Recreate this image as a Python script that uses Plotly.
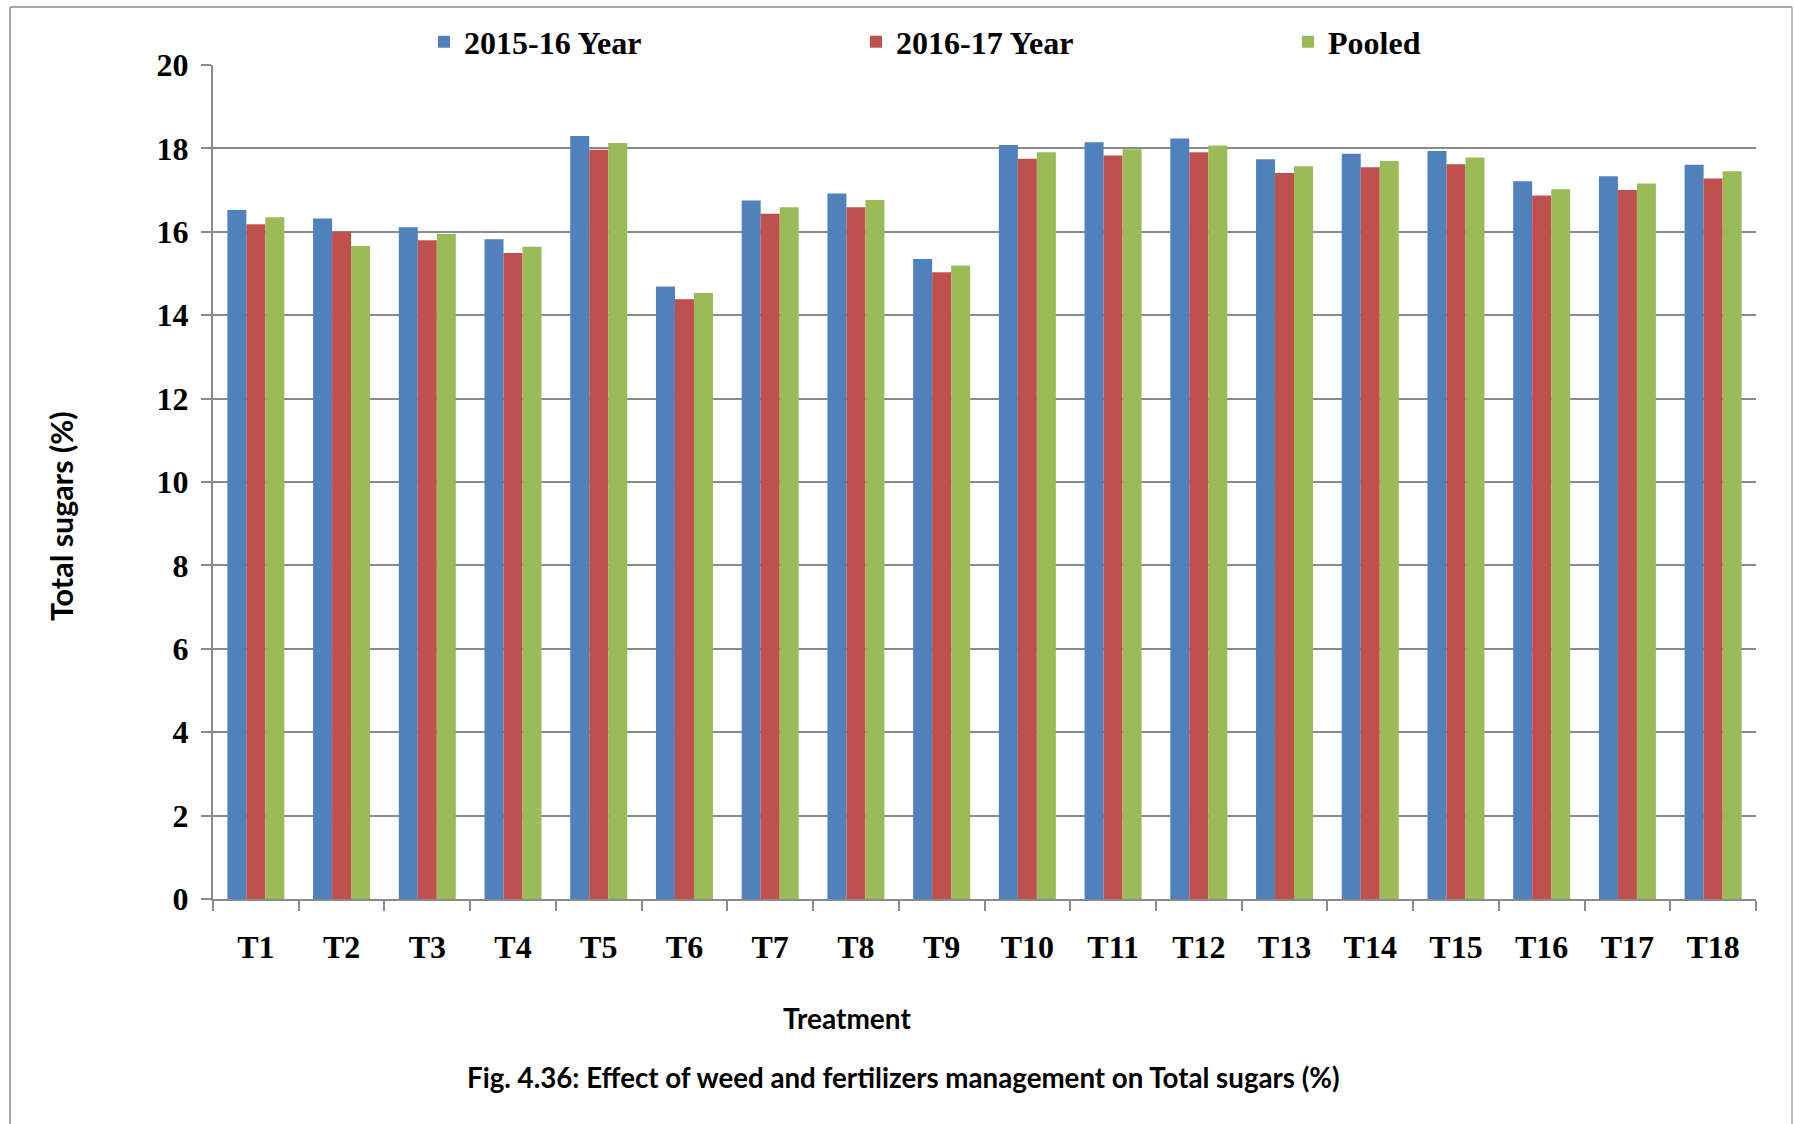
import plotly.graph_objects as go

# Total sugars (%) by treatment
treatments = ["T1", "T2", "T3", "T4", "T5", "T6", "T7", "T8", "T9",
              "T10", "T11", "T12", "T13", "T14", "T15", "T16", "T17", "T18"]
year_2015_16 = [16.52, 16.32, 16.11, 15.82, 18.30, 14.69, 16.75, 16.92, 15.35,
                18.08, 18.15, 18.24, 17.74, 17.87, 17.94, 17.21, 17.33, 17.61]
year_2016_17 = [16.18, 16.00, 15.80, 15.49, 17.97, 14.38, 16.43, 16.59, 15.03,
                17.75, 17.83, 17.91, 17.41, 17.55, 17.62, 16.87, 17.00, 17.28]
pooled = [16.35, 15.66, 15.95, 15.64, 18.13, 14.53, 16.59, 16.76, 15.19,
          17.91, 17.98, 18.07, 17.57, 17.70, 17.78, 17.02, 17.16, 17.45]
y_ticks = [0, 2, 4, 6, 8, 10, 12, 14, 16, 18, 20]

W, H = 1794, 1124
L, R, T, B = 213, 1756, 65, 899  # plot area in pixels


def px(x):
    return (x - L) / (R - L)


def py(y):
    return (B - y) / (B - T)


serif = dict(family="Liberation Serif", size=32, color="black", weight="bold")
sans = dict(family="Lato", color="black", weight="bold")
grid_col = "#8a8a8a"
border_col = "#a6a6a6"

fig = go.Figure()
for name, vals, col in [("2015-16 Year", year_2015_16, "#4F81BD"),
                        ("2016-17 Year", year_2016_17, "#C0504D"),
                        ("Pooled", pooled, "#9BBB59")]:
    fig.add_trace(go.Bar(x=treatments, y=vals, name=name,
                         marker=dict(color=col, line=dict(width=0))))


def note(text, x, y, size, angle=0):
    return dict(text=text, textangle=angle, x=px(x), y=py(y),
                xref="paper", yref="paper", xanchor="center", yanchor="middle",
                showarrow=False, font=dict(sans, size=size))


fig.update_layout(
    width=W, height=H,
    margin=dict(l=L, r=W - R, t=T, b=H - B),
    paper_bgcolor="white", plot_bgcolor="white",
    barmode="group", bargap=0.335, bargroupgap=0,
    showlegend=True,
    legend=dict(orientation="h", x=px(424), xanchor="left",
                y=py(42), yanchor="middle",
                font=serif, entrywidth=387, entrywidthmode="pixels",
                traceorder="normal", bgcolor="rgba(0,0,0,0)"),
    xaxis=dict(type="category", showgrid=False, showline=True,
               linecolor=grid_col, linewidth=2,
               ticks="outside", tickson="boundaries", ticklen=10,
               tickcolor=grid_col, tickwidth=1.5,
               tickfont=serif, ticklabelstandoff=19),
    yaxis=dict(range=[0, 20], tickvals=y_ticks, showgrid=True,
               gridcolor=grid_col, gridwidth=2,
               showline=True, linecolor=grid_col, linewidth=2,
               ticks="outside", ticklen=10, tickcolor=grid_col, tickwidth=1.5,
               tickfont=serif, zeroline=False, ticklabelstandoff=6),
    annotations=[
        note("Total sugars (%)", 61, 516, 30.5, angle=-90),
        note("Treatment", 847, 1018, 28),
        note("Fig. 4.36: Effect of weed and fertilizers management on Total sugars (%)",
             903, 1077, 27.7),
    ],
    shapes=[
        dict(type="line", xref="paper", yref="paper", x0=px(10), x1=px(10),
             y0=py(7), y1=py(1130), line=dict(color=border_col, width=2)),
        dict(type="line", xref="paper", yref="paper", x0=px(10), x1=px(1792),
             y0=py(7), y1=py(7), line=dict(color=border_col, width=2)),
        dict(type="line", xref="paper", yref="paper", x0=px(1792), x1=px(1792),
             y0=py(7), y1=py(1130), line=dict(color=border_col, width=1.5)),
    ],
)

fig.write_html("out.html")
